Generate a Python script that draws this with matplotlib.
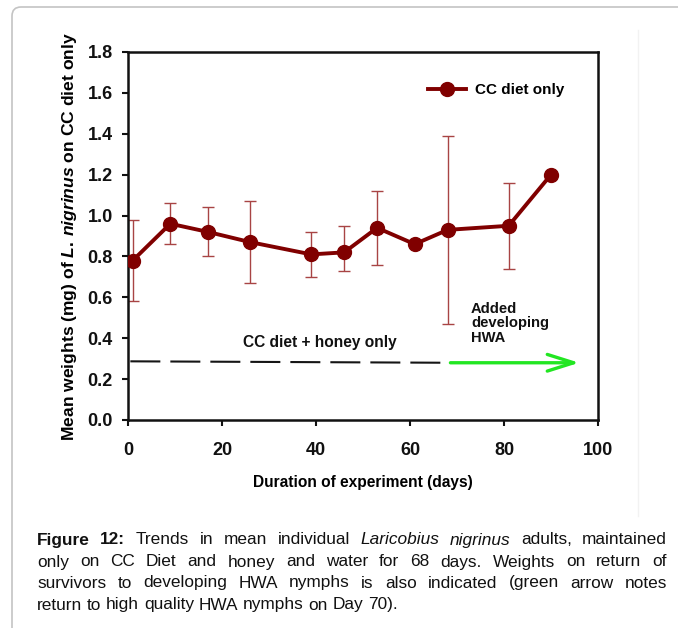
import matplotlib
matplotlib.use("Agg")
import matplotlib.pyplot as plt
from matplotlib.patches import FancyBboxPatch
import numpy as np

plt.rcParams['font.family'] = ['Liberation Sans', 'DejaVu Sans']
plt.rcParams['mathtext.fontset'] = 'custom'
plt.rcParams['mathtext.rm'] = 'Liberation Sans:bold'
plt.rcParams['mathtext.it'] = 'Liberation Sans:italic:bold'
plt.rcParams['mathtext.bf'] = 'Liberation Sans:bold'

# ---- data ----
days = [1, 9, 17, 26, 39, 46, 53, 61, 68, 81, 90]
mean_weight = [0.78, 0.96, 0.92, 0.87, 0.81, 0.82, 0.94, 0.86, 0.93, 0.95, 1.20]
upper = [0.98, 1.06, 1.04, 1.07, 0.92, 0.95, 1.12, 0.86, 1.39, 1.16, 1.20]
lower = [0.58, 0.86, 0.80, 0.67, 0.70, 0.73, 0.76, 0.86, 0.47, 0.74, 1.20]
dash_x = [0.5, 68.1]
dash_y = [0.287, 0.280]
arrow_x = [68.6, 96]
arrow_y = [0.28, 0.28]
xticks = [0, 20, 40, 60, 80, 100]
yticks = [0.0, 0.2, 0.4, 0.6, 0.8, 1.0, 1.2, 1.4, 1.6, 1.8]

W, H = 678, 628
fig = plt.figure(figsize=(W / 100, H / 100), dpi=100)

# page frame
frame = FancyBboxPatch((12, -30), 720, 651, boxstyle="round,pad=0,rounding_size=9",
                       transform=None, fc='none', ec='#c4c4c4', lw=1.2)
fig.patches.append(frame)
fig.add_artist(plt.Line2D([638, 638], [H - 516, H - 30], transform=None, color='#f2f2f2', lw=1))

ax = fig.add_axes([128 / W, 1 - 420 / H, 470 / W, 368 / H])

m = np.array(mean_weight)
yerr = [m - np.array(lower), np.array(upper) - m]
ax.errorbar(days, mean_weight, yerr=yerr, fmt='none', ecolor='#a84444', elinewidth=1.0,
            capsize=4.2, capthick=1.0, zorder=2)
ax.plot(days, mean_weight, color='#800000', lw=2.8, marker='o', ms=10,
        mfc='#800000', mec='#800000', zorder=3, label='CC diet only')

ax.plot(dash_x, dash_y, color='#151515', lw=1.5, dashes=(14.4, 4.8), zorder=2)
ax.annotate('', xy=(arrow_x[1], arrow_y[1]), xytext=(arrow_x[0], arrow_y[0]),
            arrowprops=dict(arrowstyle='->,head_length=0.95,head_width=0.3', color='#22e622',
                            lw=2.4, mutation_scale=20, shrinkA=0, shrinkB=0))

ax.text(40.85, 0.38, 'CC diet + honey only', ha='center', va='center', fontsize=11.2,
        fontweight='bold', color='#111111')
ax.text(73.0, 0.578, 'Added\ndeveloping\nHWA', ha='left', va='top', fontsize=10.6,
        fontweight='bold', linespacing=1.05, color='#111111')

ax.set_xlim(0, 100)
ax.set_ylim(0, 1.8)
ax.set_xticks(xticks)
ax.set_yticks(yticks)
ax.set_xticklabels([str(v) for v in xticks])
ax.set_yticklabels([f'{v:.1f}' for v in yticks])
for sp in ax.spines.values():
    sp.set_linewidth(1.8)
    sp.set_color('#111111')
ax.tick_params(direction='out', length=4, width=1.5, labelsize=13, colors='#111111')
ax.tick_params(axis='y', pad=7)
ax.tick_params(axis='x', pad=12)
for lab in ax.get_xticklabels() + ax.get_yticklabels():
    lab.set_fontweight('bold')

ax.set_xlabel('Duration of experiment (days)', fontsize=11.2, fontweight='bold', labelpad=11)
ax.set_ylabel(r'Mean weights (mg) of $\mathit{L.\,nigrinus}$ on CC diet only', fontsize=12.6,
              fontweight='bold', labelpad=6)

leg = ax.legend(loc='center left', bbox_to_anchor=((428 - 128) / 470, 1 - (90 - 52) / 368),
                frameon=False, fontsize=11, handlelength=2.5, handletextpad=0.55,
                borderpad=0, borderaxespad=0)
for t in leg.get_texts():
    t.set_fontweight('bold')

# ---- caption (justified) ----
cap_lines = [
    [("Figure", 'bold', 'normal'), ("12:", 'bold', 'normal'), ("Trends", 'normal', 'normal'),
     ("in", 'normal', 'normal'), ("mean", 'normal', 'normal'), ("individual", 'normal', 'normal'),
     ("Laricobius", 'normal', 'italic'), ("nigrinus", 'normal', 'italic'),
     ("adults,", 'normal', 'normal'), ("maintained", 'normal', 'normal')],
    [(w, 'normal', 'normal') for w in "only on CC Diet and honey and water for 68 days. Weights on return of".split()],
    [(w, 'normal', 'normal') for w in "survivors to developing HWA nymphs is also indicated (green arrow notes".split()],
    [(w, 'normal', 'normal') for w in "return to high quality HWA nymphs on Day 70).".split()],
]
cap_y = [540, 562, 583, 605]
cap_fs = 12.4
x_left, x_right = 37, 667
renderer = fig.canvas.get_renderer()
sp1 = fig.text(0, 0, 'a b', fontsize=cap_fs)
sp2 = fig.text(0, 0, 'ab', fontsize=cap_fs)
space_w = sp1.get_window_extent(renderer).width - sp2.get_window_extent(renderer).width
sp1.remove()
sp2.remove()
for li, (words, yc) in enumerate(zip(cap_lines, cap_y)):
    objs = []
    for w, wt, st in words:
        t = fig.text(0, 1 - yc / H, w, fontsize=cap_fs, fontweight=wt, fontstyle=st,
                     ha='left', va='center', color='#111111')
        objs.append(t)
    widths = [o.get_window_extent(renderer).width for o in objs]
    if li < len(cap_lines) - 1:
        gap = (x_right - x_left - sum(widths)) / (len(objs) - 1)
    else:
        gap = space_w
    x = x_left
    for o, wdt in zip(objs, widths):
        o.set_x(x / W)
        x += wdt + gap

fig.savefig('out.png', dpi=100)
